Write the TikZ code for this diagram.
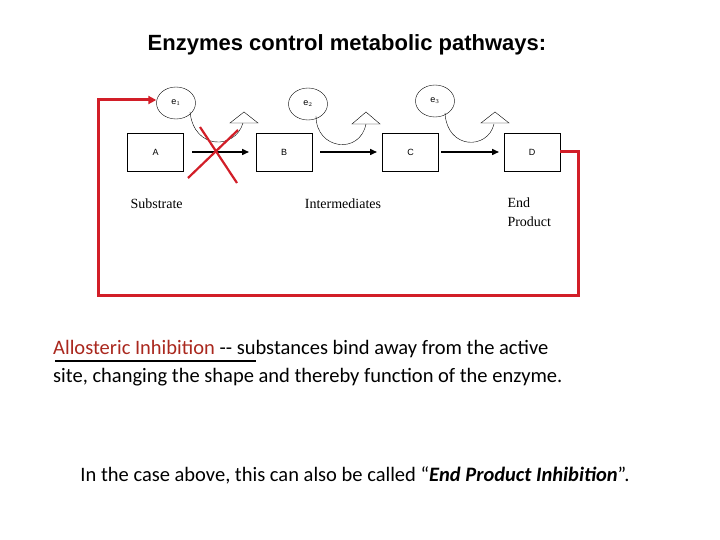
\documentclass[tikz,border=0pt]{standalone}
\usepackage{fontspec}
\setmainfont{Liberation Serif}
\newfontfamily\hdfont{Liberation Sans}
\newfontfamily\bodyfont{Carlito}
\usetikzlibrary{arrows.meta,shapes.geometric}
\definecolor{redline}{RGB}{210,30,40}
\definecolor{allo}{RGB}{170,40,30}
\begin{document}
\begin{tikzpicture}[x=1pt,y=-1pt,
  box/.style={draw,thin,minimum width=56pt,minimum height=38pt,inner sep=0,font=\hdfont\fontsize{9}{10}\selectfont},
  enz/.style={draw,thin,ellipse,minimum width=39pt,minimum height=32pt,inner sep=0,font=\hdfont\fontsize{9}{10}\selectfont},
  flow/.style={-{Triangle[length=7pt,width=6pt]},line width=1.5pt},
  curve/.style={thin},
  tri/.style={draw,thin,fill=white},
  loopline/.style={draw=redline,line width=3pt},
  lbl/.style={font=\fontsize{14}{17}\selectfont,align=left},
  body/.style={font=\bodyfont\fontsize{20.5}{28}\selectfont,anchor=west,inner sep=0}]
\useasboundingbox (0,0) rectangle (720,540);
\node[font=\hdfont\bfseries\fontsize{22}{26}\selectfont] (title) at (347,45) {Enzymes control metabolic pathways:};
\node[box] (A) at (155.5,152) {A};
\node[box] (B) at (284,152) {B};
\node[box] (C) at (410.5,152) {C};
\node[box] (D) at (532,152) {D};
\node[enz] (e1) at (176,103) {e$_1$};
\node[enz] (e2) at (308,104) {e$_2$};
\node[enz] (e3) at (435,101) {e$_3$};
\draw[flow] (192,152) coordinate (sa) -- (249,152) coordinate (sb);
\draw[flow] (320,152) coordinate (sc) -- (377,152) coordinate (sd);
\draw[flow] (441,152) coordinate (se) -- (499,152) coordinate (sf);
\draw[curve] (190,112) .. controls (194,150) and (235,150) .. (243,123);
\draw[curve] (316,116) .. controls (316,150) and (360,155) .. (366,124);
\draw[curve] (445,113) .. controls (447,150) and (488,150) .. (494,124);
\draw[tri] (230,123) -- (244,112) -- (258,123) -- cycle;
\draw[tri] (352,124) -- (366,112) -- (380,124) -- cycle;
\draw[tri] (481,123) -- (495,112) -- (509,123) -- cycle;
\coordinate (r1) at (578,152);
\coordinate (r2) at (578,295);
\coordinate (r3) at (98,295);
\coordinate (r4) at (98,100);
\draw[loopline,-{Triangle[length=8pt,width=8pt]}] (D.east) -- (r1) -- (r2) -- (r3) -- (r4) -- (e1.west|-r4);
\draw[draw=redline,line width=2.2pt] (200,127) -- (237,183);
\draw[draw=redline,line width=2.2pt] (238,130) -- (188,178);
\node[lbl,anchor=west] (s) at (127,204) {Substrate};
\node[lbl] (i) at (343,204) {Intermediates};
\node[lbl,anchor=north west,font=\fontsize{14}{19}\selectfont] (ep) at (504,194) {End\\Product};
\node[body] (l1) at (53,349) {\textcolor{allo}{Allosteric Inhibition} -- substances bind away from the active};
\node[body] (l2) at (53,377) {site, changing the shape and thereby function of the enzyme.};
\draw[line width=1.5pt] (55,361) -- (256,361);
\node[body,anchor=center] (l3) at (355,475) {In the case above, this can also be called “\textit{\textbf{End Product Inhibition}}”.};
\end{tikzpicture}
\end{document}
